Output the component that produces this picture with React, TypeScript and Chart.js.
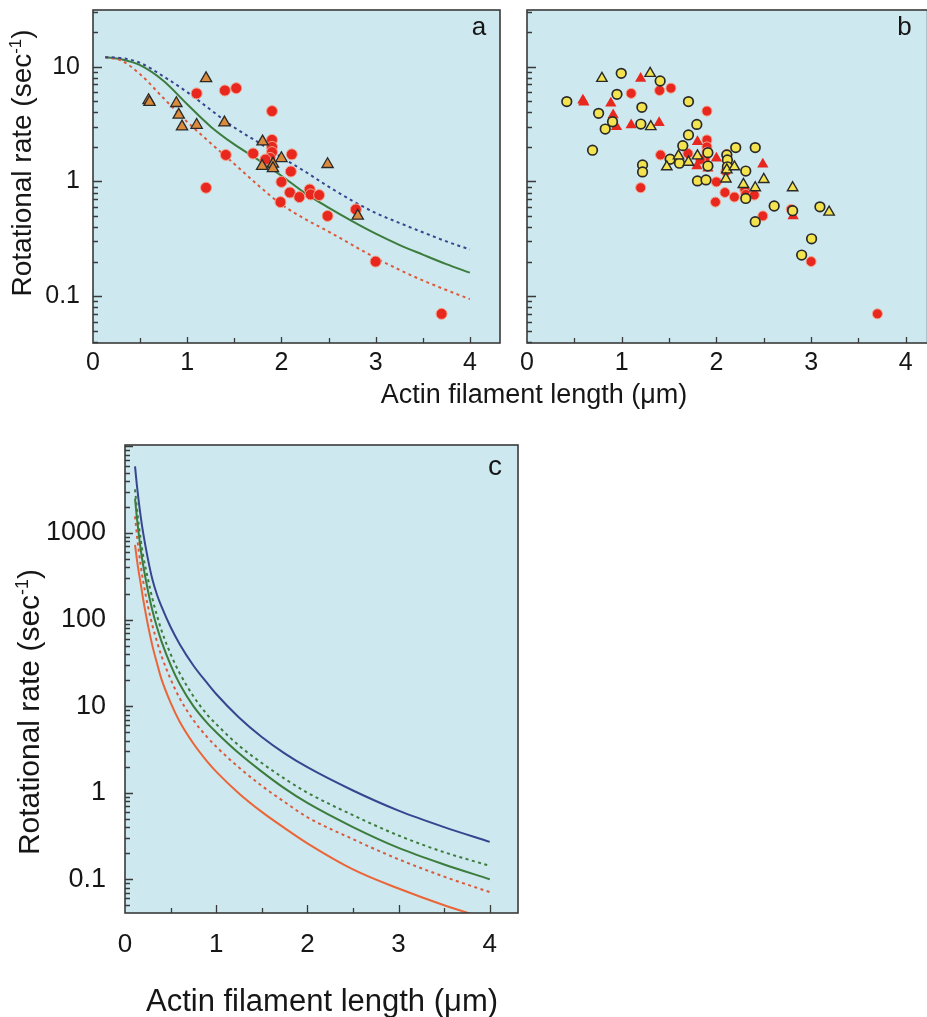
import React, { useEffect, useRef } from "react";
import { Chart, registerables } from "chart.js";
Chart.register(...registerables);

const FONT = "'Liberation Sans', Arial, Helvetica, sans-serif";
const INK = "#161616";

// ---------- axis tick labels ----------
const xTickValues = [0, 1, 2, 3, 4];
const yTickValuesAB = [0.1, 1, 10];
const yTickValuesC = [0.1, 1, 10, 100, 1000];

// ---------- panel a (and b): measured red circles ----------
const redCircleX = [1.10, 1.40, 1.52, 1.90, 1.90, 1.90, 1.90, 1.88, 1.83, 1.70, 1.41, 2.11, 2.10, 2.00, 1.20, 2.09, 2.19, 2.30, 2.31, 2.40, 1.99, 2.49, 2.79, 3.00, 3.70];
const redCircleY = [5.85, 6.2, 6.5, 4.1, 2.3, 2.0, 1.8, 1.6, 1.55, 1.75, 1.70, 1.72, 1.22, 0.99, 0.88, 0.80, 0.73, 0.85, 0.77, 0.76, 0.66, 0.50, 0.57, 0.20, 0.070];

// ---------- panel a: triangles (red triangles in panel b) ----------
const triangleX = [0.59, 0.60, 1.20, 0.885, 0.91, 0.945, 1.10, 1.395, 1.80, 2.00, 1.795, 1.91, 1.91, 2.49, 2.81];
const triangleY = [5.1, 4.9, 7.9, 4.8, 3.8, 3.0, 3.1, 3.25, 2.22, 1.59, 1.36, 1.42, 1.30, 1.41, 0.50];

// ---------- panel b: yellow circles ----------
const yellowCircleX = [0.42, 0.995, 0.95, 1.406, 0.756, 0.903, 0.826, 0.692, 1.213, 1.202, 1.22, 1.22, 1.705, 1.793, 1.705, 1.645, 1.511, 1.61, 1.80, 1.89, 1.91, 1.91, 2.11, 2.116, 2.116, 2.204, 2.31, 2.41, 2.31, 2.41, 2.61, 2.805, 3.005, 2.90, 3.093];
const yellowCircleY = [4.96, 8.75, 5.74, 7.5, 3.92, 3.31, 2.86, 1.87, 4.42, 3.16, 1.39, 1.21, 4.96, 3.14, 2.54, 2.05, 1.56, 1.44, 1.01, 1.03, 1.78, 1.36, 1.70, 1.54, 1.34, 1.97, 1.23, 1.97, 0.71, 0.445, 0.61, 0.555, 0.316, 0.228, 0.60];

// ---------- panel b: yellow triangles ----------
const yellowTriangleX = [0.791, 1.30, 1.307, 1.60, 1.476, 1.705, 1.80, 2.11, 2.19, 2.10, 2.285, 2.41, 2.50, 2.805, 3.19];
const yellowTriangleY = [7.9, 8.75, 3.0, 1.67, 1.34, 1.47, 1.67, 1.26, 1.34, 1.05, 0.94, 0.88, 1.04, 0.88, 0.54];

// ---------- panel a: model curves ----------
const curveAX = [0.13, 0.3, 0.5, 0.75, 1.0, 1.25, 1.5, 1.75, 2.0, 2.25, 2.5, 2.75, 3.0, 3.25, 3.5, 3.75, 4.0];
const greenSolidA = [12.1, 11.6, 10.3, 7.5, 4.7, 3.0, 2.1, 1.55, 1.12, 0.79, 0.59, 0.45, 0.35, 0.28, 0.23, 0.19, 0.16];
const blueDashA = [12.1, 11.9, 10.8, 8.2, 6.0, 4.2, 2.95, 2.2, 1.62, 1.22, 0.90, 0.68, 0.53, 0.435, 0.36, 0.30, 0.255];
const redDashA = [12.1, 11.3, 8.6, 5.3, 3.3, 2.15, 1.42, 0.93, 0.63, 0.47, 0.365, 0.28, 0.215, 0.17, 0.137, 0.113, 0.094];

// ---------- panel c: model curves ----------
const curveCX = [0.11, 0.13, 0.15, 0.175, 0.2, 0.25, 0.3, 0.35, 0.4, 0.5, 0.6, 0.75, 0.9, 1.0, 1.25, 1.5, 1.75, 2.0, 2.5, 3.0, 3.5, 4.0];
const blueSolidC = [5900, 3600, 2350, 1480, 990, 510, 292, 195, 142, 82, 52, 29.5, 18.5, 13.8, 7.4, 4.4, 2.85, 1.97, 1.06, 0.62, 0.40, 0.27];
const greenDashC = [3200, 1950, 1270, 800, 540, 300, 175, 112, 75, 40, 24, 13, 8.0, 6.2, 3.5, 2.2, 1.45, 1.0, 0.55, 0.32, 0.205, 0.143];
const greenSolidC = [2500, 1520, 990, 620, 420, 220, 128, 82, 56, 30, 18, 10, 6.4, 5.0, 2.85, 1.75, 1.12, 0.76, 0.40, 0.23, 0.148, 0.10];
const redDashC = [1560, 960, 630, 400, 275, 145, 86, 56, 38, 20.5, 12.3, 6.9, 4.4, 3.4, 1.95, 1.2, 0.78, 0.52, 0.29, 0.17, 0.107, 0.071];
const redSolidC = [730, 500, 360, 250, 170, 88, 50, 31.5, 20.5, 11, 6.6, 3.7, 2.3, 1.75, 0.98, 0.6, 0.39, 0.26, 0.13, 0.078, 0.05, 0.034];

// ---------- colours ----------
const BG = "#cde8ef";
const FRAME = "#3a3a3a";
const RED = "#e8281e";
const ORANGE = "#dc8b3d";
const YELLOW = "#f3e34e";
const GREEN = "#3c7c3c";
const BLUE = "#36468f";
const REDLINE = "#dc5a3c";
const ORANGELINE = "#ea6638";

const pts = (xs: number[], ys: number[]) => xs.map((x, i) => ({ x, y: ys[i] }));

function logMinors(min: number, max: number) {
  const maj: number[] = [];
  const min2: number[] = [];
  for (let e = -3; e <= 5; e++) {
    for (let k = 1; k <= 9; k++) {
      const v = k * Math.pow(10, e);
      if (v >= min * 0.999 && v <= max * 1.001) (k === 1 ? maj : min2).push(v);
    }
  }
  return { maj, min: min2 };
}
function linMinors(min: number, max: number) {
  const maj: number[] = [];
  const mi: number[] = [];
  for (let i = 0; i <= 20; i++) {
    const v = i * 0.5;
    if (v > min + 1e-6 && v <= max) (i % 2 === 0 ? maj : mi).push(v);
  }
  return { maj, min: mi };
}

function drawYTitle(ctx: CanvasRenderingContext2D, cx: number, cy: number, size: number) {
  const main = "Rotational rate (sec";
  const sup = "-1";
  const tail = ")";
  ctx.save();
  ctx.translate(cx, cy);
  ctx.rotate(-Math.PI / 2);
  ctx.fillStyle = INK;
  ctx.textAlign = "left";
  ctx.textBaseline = "alphabetic";
  ctx.font = `${size}px ${FONT}`;
  const w1 = ctx.measureText(main).width;
  const w3 = ctx.measureText(tail).width;
  const ss = size * 0.6;
  ctx.font = `${ss}px ${FONT}`;
  const w2 = ctx.measureText(sup).width;
  let x = -(w1 + w2 + w3) / 2;
  const base = size * 0.36;
  ctx.font = `${size}px ${FONT}`;
  ctx.fillText(main, x, base);
  x += w1;
  ctx.font = `${ss}px ${FONT}`;
  ctx.fillText(sup, x, base - size * 0.36);
  x += w2;
  ctx.font = `${size}px ${FONT}`;
  ctx.fillText(tail, x, base);
  ctx.restore();
}

function drawText(ctx: CanvasRenderingContext2D, text: string, cx: number, cy: number, size: number) {
  ctx.save();
  ctx.fillStyle = INK;
  ctx.font = `${size}px ${FONT}`;
  ctx.textAlign = "center";
  ctx.textBaseline = "middle";
  ctx.fillText(text, cx, cy);
  ctx.restore();
}

type DecorCfg = {
  xMin: number; xMax: number; yMin: number; yMax: number;
  yMajLen: number; yMinLen: number; xMajLen: number; xMinLen: number;
  letter: { text: string; dxFromRight: number; dyFromTop: number; size: number };
  yTitle?: { x: number; y: number; size: number };
  xTitle?: { x: number; y: number; size: number };
};

function makeDecor(cfg: DecorCfg) {
  return {
    id: "decor",
    beforeDraw(chart: any) {
      const { ctx, chartArea: a } = chart;
      ctx.save();
      ctx.fillStyle = BG;
      ctx.fillRect(a.left, a.top, a.right - a.left, a.bottom - a.top);
      ctx.restore();
    },
    afterDraw(chart: any) {
      const { ctx, chartArea: a } = chart;
      const xs = chart.scales.x;
      const ys = chart.scales.y;
      ctx.save();
      ctx.strokeStyle = FRAME;
      ctx.lineWidth = 1.3;
      const yt = logMinors(cfg.yMin, cfg.yMax);
      ctx.beginPath();
      yt.maj.forEach((v) => {
        const p = Math.round(ys.getPixelForValue(v)) + 0.5;
        ctx.moveTo(a.left, p);
        ctx.lineTo(a.left + cfg.yMajLen, p);
      });
      yt.min.forEach((v) => {
        const p = Math.round(ys.getPixelForValue(v)) + 0.5;
        ctx.moveTo(a.left, p);
        ctx.lineTo(a.left + cfg.yMinLen, p);
      });
      const xt = linMinors(cfg.xMin, cfg.xMax);
      xt.maj.forEach((v) => {
        const p = Math.round(xs.getPixelForValue(v)) + 0.5;
        ctx.moveTo(p, a.bottom);
        ctx.lineTo(p, a.bottom - cfg.xMajLen);
      });
      xt.min.forEach((v) => {
        const p = Math.round(xs.getPixelForValue(v)) + 0.5;
        ctx.moveTo(p, a.bottom);
        ctx.lineTo(p, a.bottom - cfg.xMinLen);
      });
      ctx.stroke();
      ctx.lineWidth = 1.6;
      ctx.strokeRect(a.left, a.top, a.right - a.left, a.bottom - a.top);
      ctx.restore();
      const L = cfg.letter;
      drawText(ctx, L.text, a.right - L.dxFromRight, a.top + L.dyFromTop, L.size);
      if (cfg.yTitle) drawYTitle(ctx, cfg.yTitle.x, cfg.yTitle.y, cfg.yTitle.size);
      if (cfg.xTitle) drawText(ctx, "Actin filament length (\u03bcm)", cfg.xTitle.x, cfg.xTitle.y, cfg.xTitle.size);
    },
  };
}

function lineSet(xs: number[], ys: number[], color: string, dashed: boolean, width = 2) {
  return {
    data: pts(xs, ys),
    showLine: true,
    pointRadius: 0,
    borderColor: color,
    backgroundColor: color,
    borderWidth: width,
    borderDash: dashed ? [3, 3.5] : [],
    cubicInterpolationMode: "monotone",
    clip: 0,
    order: 5,
  };
}

function axisX(min: number, max: number, height: number, size: number, pad: number, show = true) {
  return {
    type: "linear",
    min,
    max,
    afterBuildTicks: (s: any) => {
      s.ticks = xTickValues.map((v) => ({ value: v }));
    },
    afterFit: (s: any) => {
      s.height = height;
      s.paddingLeft = 0;
      s.paddingRight = 0;
    },
    grid: { display: false, drawTicks: false },
    border: { display: false },
    ticks: {
      display: show,
      autoSkip: false,
      maxRotation: 0,
      padding: pad,
      color: INK,
      font: { family: FONT, size },
      callback: (v: any) => String(v),
    },
  };
}

function axisY(min: number, max: number, values: number[], width: number, size: number, pad: number, show = true) {
  return {
    type: "logarithmic",
    min,
    max,
    afterBuildTicks: (s: any) => {
      s.ticks = values.map((v) => ({ value: v }));
    },
    afterFit: (s: any) => {
      s.width = width;
      s.paddingTop = 0;
      s.paddingBottom = 0;
    },
    grid: { display: false, drawTicks: false },
    border: { display: false },
    ticks: {
      display: show,
      autoSkip: false,
      padding: pad,
      color: INK,
      font: { family: FONT, size },
      callback: (v: any) => String(v),
    },
  };
}

const baseOptions = {
  animation: false,
  responsive: false,
  devicePixelRatio: 1,
  events: [],
  plugins: { legend: { display: false }, tooltip: { enabled: false } },
};

const AB_YMIN = 0.039;
const AB_YMAX = 31.2;

function configA(): any {
  const xMax = 4.32;
  return {
    type: "scatter",
    data: {
      datasets: [
        { data: pts(triangleX, triangleY), pointStyle: "triangle", pointRadius: 6.5, backgroundColor: ORANGE, borderColor: "#2a2a2a", pointBorderWidth: 1.3, order: 0 },
        { data: pts(redCircleX, redCircleY), pointStyle: "circle", pointRadius: 5.5, backgroundColor: RED, borderColor: "#f3a28c", pointBorderWidth: 1, order: 1 },
        lineSet(curveAX, blueDashA, BLUE, true),
        lineSet(curveAX, redDashA, REDLINE, true),
        lineSet(curveAX, greenSolidA, GREEN, false),
      ],
    },
    options: {
      ...baseOptions,
      layout: { padding: { left: 0, top: 10, right: 427, bottom: 0 } },
      scales: {
        x: axisX(0, xMax, 77, 25, 5),
        y: axisY(AB_YMIN, AB_YMAX, yTickValuesAB, 93, 25, 13),
      },
    },
    plugins: [
      makeDecor({
        xMin: 0, xMax, yMin: AB_YMIN, yMax: AB_YMAX,
        yMajLen: 9, yMinLen: 5, xMajLen: 6, xMinLen: 5,
        letter: { text: "a", dxFromRight: 21, dyFromTop: 18, size: 26 },
        yTitle: { x: 21, y: 163, size: 28 },
        xTitle: { x: 534, y: 396, size: 27 },
      }),
    ],
  };
}

function configB(): any {
  const xMax = 4.23;
  return {
    type: "scatter",
    data: {
      datasets: [
        { data: pts(yellowTriangleX, yellowTriangleY), pointStyle: "triangle", pointRadius: 6, backgroundColor: YELLOW, borderColor: "#2a2a2a", pointBorderWidth: 1.4, order: 0 },
        { data: pts(yellowCircleX, yellowCircleY), pointStyle: "circle", pointRadius: 4.8, backgroundColor: YELLOW, borderColor: "#2a2a2a", pointBorderWidth: 1.7, order: 1 },
        { data: pts(triangleX, triangleY), pointStyle: "triangle", pointRadius: 6.5, backgroundColor: RED, borderColor: RED, pointBorderWidth: 0, order: 2 },
        { data: pts(redCircleX, redCircleY), pointStyle: "circle", pointRadius: 5, backgroundColor: RED, borderColor: "#f3a28c", pointBorderWidth: 1, order: 3 },
      ],
    },
    options: {
      ...baseOptions,
      layout: { padding: { left: 0, top: 10, right: 7, bottom: 0 } },
      scales: {
        x: axisX(0, xMax, 77, 25, 5),
        y: axisY(AB_YMIN, AB_YMAX, yTickValuesAB, 12, 25, 13, false),
      },
    },
    plugins: [
      makeDecor({
        xMin: 0, xMax, yMin: AB_YMIN, yMax: AB_YMAX,
        yMajLen: 9, yMinLen: 5, xMajLen: 6, xMinLen: 5,
        letter: { text: "b", dxFromRight: 23, dyFromTop: 18, size: 26 },
      }),
    ],
  };
}

function configC(): any {
  const xMax = 4.31;
  const yMin = 0.0407;
  const yMax = 10400;
  return {
    type: "scatter",
    data: {
      datasets: [
        lineSet(curveCX, blueSolidC, BLUE, false),
        lineSet(curveCX, greenDashC, GREEN, true),
        lineSet(curveCX, greenSolidC, GREEN, false),
        lineSet(curveCX, redDashC, REDLINE, true),
        lineSet(curveCX, redSolidC, ORANGELINE, false),
      ],
    },
    options: {
      ...baseOptions,
      layout: { padding: { left: 0, top: 25, right: 22, bottom: 0 } },
      scales: {
        x: axisX(0, xMax, 104, 26, 16),
        y: axisY(yMin, yMax, yTickValuesC, 125, 27, 19),
      },
    },
    plugins: [
      makeDecor({
        xMin: 0, xMax, yMin, yMax,
        yMajLen: 8, yMinLen: 5, xMajLen: 8, xMinLen: 5,
        letter: { text: "c", dxFromRight: 23, dyFromTop: 22, size: 28 },
        yTitle: { x: 28, y: 292, size: 30 },
        xTitle: { x: 322, y: 582, size: 31 },
      }),
    ],
  };
}

export default function App() {
  const refA = useRef<HTMLCanvasElement>(null);
  const refB = useRef<HTMLCanvasElement>(null);
  const refC = useRef<HTMLCanvasElement>(null);

  useEffect(() => {
    const charts = [
      new Chart(refA.current as HTMLCanvasElement, configA()),
      new Chart(refB.current as HTMLCanvasElement, configB()),
      new Chart(refC.current as HTMLCanvasElement, configC()),
    ];
    return () => charts.forEach((c) => c.destroy());
  }, []);

  const abs = (left: number, top: number, w: number, h: number): React.CSSProperties => ({
    position: "absolute",
    left,
    top,
    width: w,
    height: h,
  });

  return (
    <div style={{ position: "absolute", left: 0, top: 0, width: 927, height: 1017, overflow: "hidden", background: "#ffffff" }}>
      <canvas ref={refA} width={927} height={420} style={abs(0, 0, 927, 420)} />
      <canvas ref={refB} width={420} height={420} style={abs(515, 0, 420, 420)} />
      <canvas ref={refC} width={540} height={597} style={abs(0, 420, 540, 597)} />
    </div>
  );
}
